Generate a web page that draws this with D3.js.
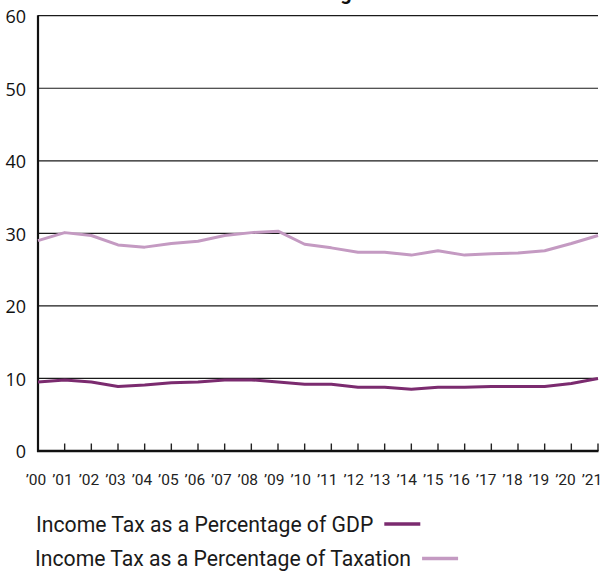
<!DOCTYPE html>
<html>
<head>
<meta charset="utf-8">
<script src="https://cdn.jsdelivr.net/npm/d3@7"></script>
<style>
  html, body { margin: 0; padding: 0; background: #fff; }
  svg { display: block; }
</style>
</head>
<body>
<svg id="chart" width="609" height="574"></svg>
<script>
// Years 2000–2021, shown as two-digit labels
const years = ["’00","’01","’02","’03","’04","’05","’06","’07","’08","’09","’10",
               "’11","’12","’13","’14","’15","’16","’17","’18","’19","’20","’21"];

// Income tax as a percentage of GDP
const pctGDP = [9.5, 9.8, 9.5, 8.9, 9.1, 9.4, 9.5, 9.8, 9.8, 9.5, 9.2,
                9.2, 8.8, 8.8, 8.5, 8.8, 8.8, 8.9, 8.9, 8.9, 9.3, 10.0];

// Income tax as a percentage of total taxation
const pctTaxation = [29.0, 30.1, 29.7, 28.4, 28.1, 28.6, 28.9, 29.7, 30.1, 30.3, 28.5,
                     28.0, 27.4, 27.4, 27.0, 27.6, 27.0, 27.2, 27.3, 27.6, 28.6, 29.7];

const yTicks = [0, 10, 20, 30, 40, 50, 60];

const seriesNames = ["Income Tax as a Percentage of GDP", "Income Tax as a Percentage of Taxation"];
const seriesColors = ["#7b2b6f", "#c49ac2"];

const svg = d3.select("#chart");
const plotLeft = 38, plotRight = 598, plotTop = 15.7, plotBottom = 451;

const x = d3.scaleLinear().domain([0, years.length - 1]).range([plotLeft, plotRight]);
const xLabel = d3.scaleLinear().domain([0, years.length - 1]).range([36, 592]);
const y = d3.scaleLinear().domain([0, 60]).range([plotBottom, plotTop]);

// Title (sits mostly above the visible area)
svg.append("text")
  .attr("x", 311).attr("y", -0.5)
  .attr("text-anchor", "middle")
  .attr("font-family", "Roboto, sans-serif")
  .attr("font-weight", 700)
  .attr("font-size", 20)
  .attr("fill", "#111")
  .text("Percentage");

// Horizontal gridlines
svg.append("g")
  .selectAll("line")
  .data(yTicks.filter(d => d > 0))
  .join("line")
  .attr("x1", plotLeft).attr("x2", plotRight)
  .attr("y1", d => y(d)).attr("y2", d => y(d))
  .attr("stroke", "#1a1a1a")
  .attr("stroke-width", 1.2);

// Y axis labels
svg.append("g")
  .selectAll("text")
  .data(yTicks)
  .join("text")
  .attr("x", 26)
  .attr("y", d => y(d) + 1)
  .attr("dy", "0.36em")
  .attr("text-anchor", "end")
  .attr("font-family", "'Open Sans', sans-serif")
  .attr("font-size", 18)
  .attr("fill", "#111")
  .text(d => d);

// Year tick marks, pointing up from the baseline
svg.append("g")
  .selectAll("line")
  .data(d3.range(1, years.length))
  .join("line")
  .attr("x1", d => x(d)).attr("x2", d => x(d))
  .attr("y1", plotBottom).attr("y2", plotBottom - 7.5)
  .attr("stroke", "#222")
  .attr("stroke-width", 1.4);

// Axis lines
svg.append("line")
  .attr("x1", plotLeft).attr("x2", plotLeft)
  .attr("y1", plotTop - 0.5).attr("y2", plotBottom + 1)
  .attr("stroke", "#111").attr("stroke-width", 2.2);
svg.append("line")
  .attr("x1", plotLeft - 1).attr("x2", plotRight + 0.5)
  .attr("y1", plotBottom).attr("y2", plotBottom)
  .attr("stroke", "#111").attr("stroke-width", 2.6);

// Year labels
svg.append("g")
  .selectAll("text")
  .data(years)
  .join("text")
  .attr("x", (d, i) => xLabel(i))
  .attr("y", 485)
  .attr("text-anchor", "middle")
  .attr("font-family", "Roboto, sans-serif")
  .attr("font-size", 15.5)
  .attr("fill", "#222")
  .text(d => d);

// Series lines
const line = d3.line().x((d, i) => x(i)).y(d => y(d));
[pctGDP, pctTaxation].forEach((vals, k) => {
  svg.append("path")
    .datum(vals)
    .attr("d", line)
    .attr("fill", "none")
    .attr("stroke", seriesColors[k])
    .attr("stroke-width", 3)
    .attr("stroke-linejoin", "round");
});

// Legend: label followed by a line swatch
const legendRows = [{ x: 36, y: 531.5 }, { x: 35, y: 566 }];
seriesNames.forEach((name, k) => {
  const t = svg.append("text")
    .attr("x", legendRows[k].x)
    .attr("y", legendRows[k].y)
    .attr("font-family", "Roboto, sans-serif")
    .attr("font-size", 21.2)
    .attr("fill", "#1a1a1a")
    .text(name);
  const w = t.node().getComputedTextLength();
  const sx = legendRows[k].x + w + 11;
  svg.append("line")
    .attr("x1", sx).attr("x2", sx + 36)
    .attr("y1", legendRows[k].y - 7.5).attr("y2", legendRows[k].y - 7.5)
    .attr("stroke", seriesColors[k])
    .attr("stroke-width", 3.5);
});
</script>
</body>
</html>
